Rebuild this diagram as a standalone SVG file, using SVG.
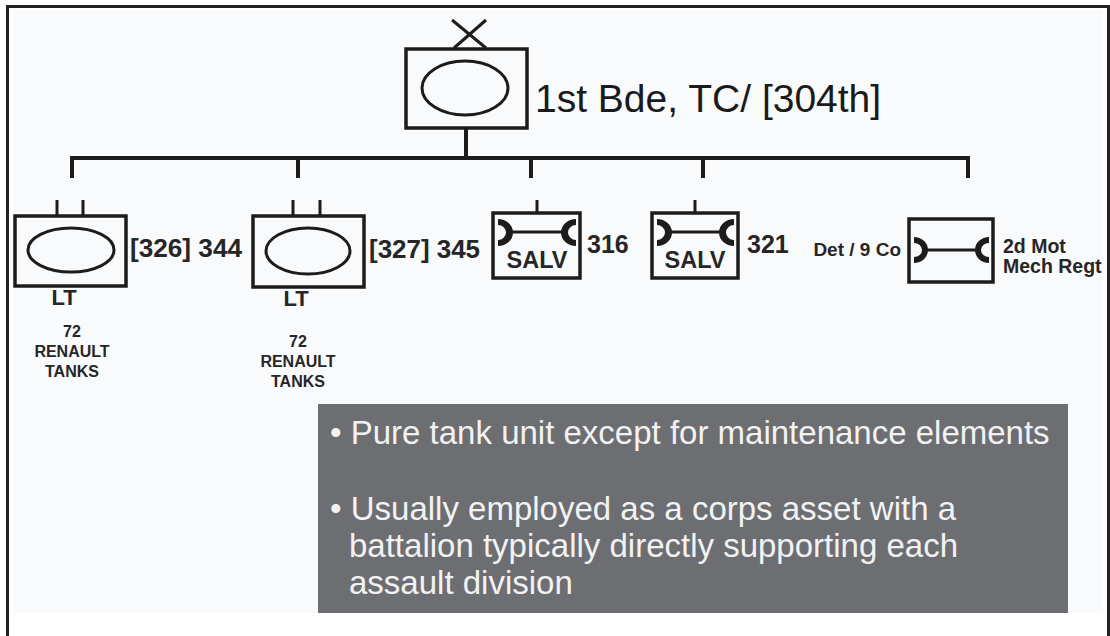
<svg xmlns="http://www.w3.org/2000/svg" width="1110" height="636" viewBox="0 0 1110 636">
<defs>
<style>
.frame{stroke:#222;stroke-width:3;fill:none}
.box{fill:none;stroke:#1c1c1c;stroke-width:3.5}
.ln{stroke:#1c1c1c;stroke-width:4;fill:none}
.tick{stroke:#1c1c1c;stroke-width:3;fill:none}
.crs{fill:#1c1c1c;stroke:none}
.bar{stroke:#1c1c1c;stroke-width:3;fill:none}
.lab{font-family:"Liberation Sans",Arial,sans-serif;font-weight:bold;fill:#262626}
.title{font-family:"Liberation Sans",Arial,sans-serif;font-size:39px;fill:#1a1a1a}
.note{font-family:"Liberation Sans",Arial,sans-serif;font-size:33px;fill:#f2f2f2}
</style>
</defs>
<rect x="0" y="0" width="1110" height="636" fill="#ffffff"/>
<rect x="14" y="10" width="1089" height="603" fill="#f9fafc"/>
<g id="frame">
<line class="frame" x1="7.5" y1="6.5" x2="1110" y2="6.5"/>
<line class="frame" x1="7.5" y1="5" x2="7.5" y2="636"/>
<line class="frame" x1="1108.5" y1="5" x2="1108.5" y2="636"/>
</g>
<g id="connectors">
<line class="ln" x1="466" y1="128" x2="466" y2="158"/>
<line class="ln" x1="70" y1="158" x2="970" y2="158"/>
<line class="ln" x1="72" y1="156" x2="72" y2="178"/>
<line class="ln" x1="298" y1="156" x2="298" y2="178"/>
<line class="ln" x1="531" y1="156" x2="531" y2="178"/>
<line class="ln" x1="703" y1="156" x2="703" y2="178"/>
<line class="ln" x1="968" y1="156" x2="968" y2="178"/>
</g>
<g id="hq">
<line class="tick" x1="452" y1="20" x2="486" y2="48"/>
<line class="tick" x1="486" y1="20" x2="454" y2="48"/>
<rect class="box" x="406" y="49" width="121" height="79"/>
<ellipse class="tick" cx="465" cy="88" rx="43" ry="27"/>
<text class="title" x="535" y="112">1st Bde, TC/ [304th]</text>
</g>
<g id="bn344">
<line class="tick" x1="57" y1="200" x2="57" y2="216"/>
<line class="tick" x1="83" y1="200" x2="83" y2="216"/>
<rect class="box" x="15" y="216" width="111" height="70"/>
<ellipse class="tick" cx="71" cy="250" rx="43" ry="22"/>
<text class="lab" x="130" y="257" font-size="25" textLength="112" lengthAdjust="spacingAndGlyphs">[326] 344</text>
<text class="lab" x="64" y="305" font-size="22" text-anchor="middle">LT</text>
<text class="lab" x="72" y="337" font-size="16" text-anchor="middle">72</text>
<text class="lab" x="72" y="357" font-size="16" text-anchor="middle">RENAULT</text>
<text class="lab" x="72" y="377" font-size="16" text-anchor="middle">TANKS</text>
</g>
<g id="bn345">
<line class="tick" x1="293" y1="200" x2="293" y2="216"/>
<line class="tick" x1="320" y1="200" x2="320" y2="216"/>
<rect class="box" x="253" y="216" width="111" height="71"/>
<ellipse class="tick" cx="308" cy="251" rx="42" ry="23"/>
<text class="lab" x="369" y="258" font-size="25" textLength="111" lengthAdjust="spacingAndGlyphs">[327] 345</text>
<text class="lab" x="296" y="306" font-size="22" text-anchor="middle">LT</text>
<text class="lab" x="298" y="347" font-size="16" text-anchor="middle">72</text>
<text class="lab" x="298" y="367" font-size="16" text-anchor="middle">RENAULT</text>
<text class="lab" x="298" y="387" font-size="16" text-anchor="middle">TANKS</text>
</g>
<g id="salv316">
<line class="tick" x1="537" y1="200" x2="537" y2="213"/>
<rect class="box" x="493" y="213" width="87" height="65"/>
<path class="crs" d="M498,219 A15,13.5 0 0 1 498,246 L498,240 A8,7.5 0 0 0 498,225 Z"/>
<line class="bar" x1="510" y1="232" x2="565" y2="232"/>
<path class="crs" d="M576,219 A15,13.5 0 0 0 576,246 L576,240 A8,7.5 0 0 1 576,225 Z"/>
<text class="lab" x="537" y="268" font-size="23.5" text-anchor="middle">SALV</text>
<text class="lab" x="587" y="253" font-size="25">316</text>
</g>
<g id="salv321">
<line class="tick" x1="695" y1="200" x2="695" y2="213"/>
<rect class="box" x="652" y="213" width="86" height="65"/>
<path class="crs" d="M657,219 A15,13.5 0 0 1 657,246 L657,240 A8,7.5 0 0 0 657,225 Z"/>
<line class="bar" x1="669" y1="232" x2="723" y2="232"/>
<path class="crs" d="M734,219 A15,13.5 0 0 0 734,246 L734,240 A8,7.5 0 0 1 734,225 Z"/>
<text class="lab" x="695" y="268" font-size="23.5" text-anchor="middle">SALV</text>
<text class="lab" x="747" y="253" font-size="25">321</text>
</g>
<g id="det9co">
<rect class="box" x="909" y="219" width="84" height="63"/>
<path class="crs" d="M914,237 A14,13 0 0 1 914,263 L914,257 A8,7 0 0 0 914,243 Z"/>
<line class="bar" x1="925" y1="250" x2="978" y2="250"/>
<path class="crs" d="M989,237 A14,13 0 0 0 989,263 L989,257 A8,7 0 0 1 989,243 Z"/>
<text class="lab" x="901" y="256" font-size="19" text-anchor="end">Det / 9 Co</text>
<text class="lab" x="1003" y="253" font-size="19.5">2d Mot</text>
<text class="lab" x="1003" y="273" font-size="19.5">Mech Regt</text>
</g>
<g id="notes">
<rect x="318" y="404" width="750" height="209" fill="#6d6e72"/>
<text class="note" x="330" y="444">• Pure tank unit except for maintenance elements</text>
<text class="note" x="330" y="520">• Usually employed as a corps asset with a</text>
<text class="note" x="349" y="557">battalion typically directly supporting each</text>
<text class="note" x="349" y="594">assault division</text>
</g>
</svg>
